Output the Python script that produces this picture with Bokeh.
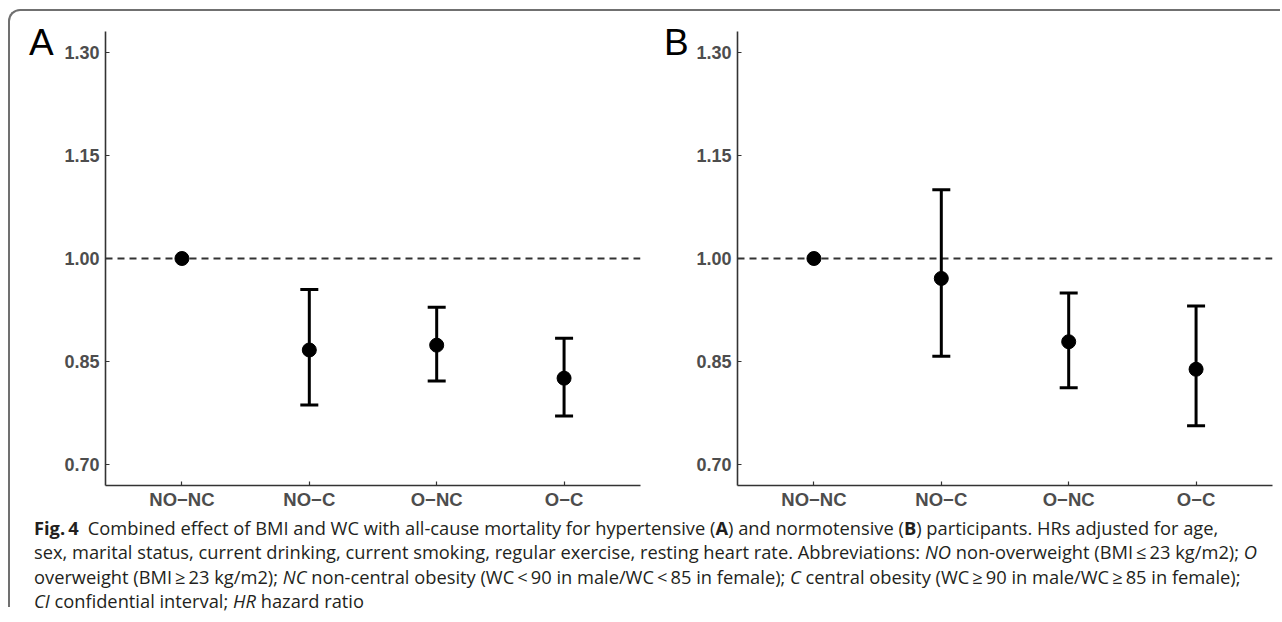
import numpy as np
from bokeh.plotting import figure
from bokeh.models import FixedTicker, Range1d, Div, ColumnDataSource, NumeralTickFormatter
from bokeh.layouts import row, column
from bokeh.embed import file_html
from bokeh.resources import INLINE

# ---------------- data ----------------
categories = ["NO\u2212NC", "NO\u2212C", "O\u2212NC", "O\u2212C"]

hr_a = [1.00, 0.867, 0.874, 0.826]
lower_a = [np.nan, 0.787, 0.822, 0.771]
upper_a = [np.nan, 0.955, 0.929, 0.884]

hr_b = [1.00, 0.971, 0.879, 0.839]
lower_b = [np.nan, 0.858, 0.812, 0.757]
upper_b = [np.nan, 1.100, 0.950, 0.931]

y_ticks = [0.70, 0.85, 1.00, 1.15, 1.30]
reference_hr = 1.0
panel_letters = ["A", "B"]

caption_lines = [
    "<b>Fig.&thinsp;4</b>&ensp;Combined effect of BMI and WC with all-cause mortality for hypertensive (<b>A</b>) and normotensive (<b>B</b>) participants. HRs adjusted for age,",
    "sex, marital status, current drinking, current smoking, regular exercise, resting heart rate. Abbreviations: <i>NO</i> non-overweight (BMI&thinsp;\u2264&thinsp;23 kg/m2); <i>O</i>",
    "overweight (BMI&thinsp;\u2265&thinsp;23 kg/m2); <i>NC</i> non-central obesity (WC&thinsp;&lt;&thinsp;90 in male/WC&thinsp;&lt;&thinsp;85 in female); <i>C</i> central obesity (WC&thinsp;\u2265&thinsp;90 in male/WC&thinsp;\u2265&thinsp;85 in female);",
    "<i>CI</i> confidential interval; <i>HR</i> hazard ratio",
]

AX_COL = "#333333"
LBL_COL = "#4d4d4d"


def make_panel(hr, lower, upper, width, left_border, right_border):
    x = list(range(1, len(categories) + 1))
    src = ColumnDataSource(dict(x=x, hr=hr, lower=lower, upper=upper))
    p = figure(width=width, height=502,
               x_range=Range1d(0.4, 4.6), y_range=Range1d(0.67, 1.33),
               output_backend="svg", toolbar_location=None,
               min_border_left=left_border, min_border_right=right_border,
               min_border_top=20, min_border_bottom=28)
    p.outline_line_color = None
    p.grid.visible = False
    p.background_fill_color = "white"
    p.border_fill_color = "white"

    p.hspan(y=[reference_hr], line_color=AX_COL, line_width=1.8, line_dash="7 5")
    p.segment(x0="x", y0="lower", x1="x", y1="upper", source=src,
              line_color="black", line_width=3)
    p.scatter(x="x", y="lower", source=src, marker="dash", size=18,
              line_color="black", line_width=3)
    p.scatter(x="x", y="upper", source=src, marker="dash", size=18,
              line_color="black", line_width=3)
    p.scatter(x="x", y="hr", source=src, size=14, color="black")

    p.xaxis.ticker = FixedTicker(ticks=x)
    p.xaxis.major_label_overrides = {i: c for i, c in zip(x, categories)}
    p.yaxis.ticker = FixedTicker(ticks=y_ticks)
    p.yaxis.formatter = NumeralTickFormatter(format="0.00")

    for ax in (p.xaxis[0], p.yaxis[0]):
        ax.axis_line_color = AX_COL
        ax.axis_line_width = 1.6
        ax.major_tick_line_color = AX_COL
        ax.major_tick_line_width = 1.2
        ax.major_tick_in = 4
        ax.major_tick_out = 0
        ax.minor_tick_line_color = None
        ax.major_label_text_color = LBL_COL
        ax.major_label_text_font = "Liberation Sans"
        ax.major_label_text_font_style = "bold"
    p.xaxis.major_label_text_font_size = "18.5px"
    p.yaxis.major_label_text_font_size = "18px"
    p.xaxis.major_label_standoff = 3
    p.yaxis.major_label_standoff = 6
    return p


def letter_div(letter, width, pad_left):
    return Div(text=letter, width=width, height=60, margin=(0, 0, 0, 0),
               styles={"font-family": "'Liberation Sans', Arial, sans-serif",
                       "font-size": "37px", "line-height": "37px", "color": "black",
                       "padding-left": f"{pad_left}px", "padding-top": "13px"})


divA = letter_div(panel_letters[0], 50, 19)
pA = make_panel(hr_a, lower_a, upper_a, 587, 45, 7)
divB = letter_div(panel_letters[1], 44, 17)
pB = make_panel(hr_b, lower_b, upper_b, 582, 46, 1)

caption = Div(text="<br>".join(caption_lines), width=1270, height=94,
              margin=(0, 0, 0, 0),
              styles={"font-family": "'Open Sans', sans-serif", "font-size": "18.3px",
                      "line-height": "24.3px", "color": "#231f20",
                      "padding-left": "24px", "padding-top": "3px",
                      "white-space": "nowrap"})

layout = column(row(divA, pA, divB, pB), caption, margin=(9, 0, 0, 8),
                styles={"border-top": "2px solid #707070", "border-left": "2px solid #707070",
                        "border-top-left-radius": "12px"})

open("out.html", "w").write(file_html(layout, INLINE))
